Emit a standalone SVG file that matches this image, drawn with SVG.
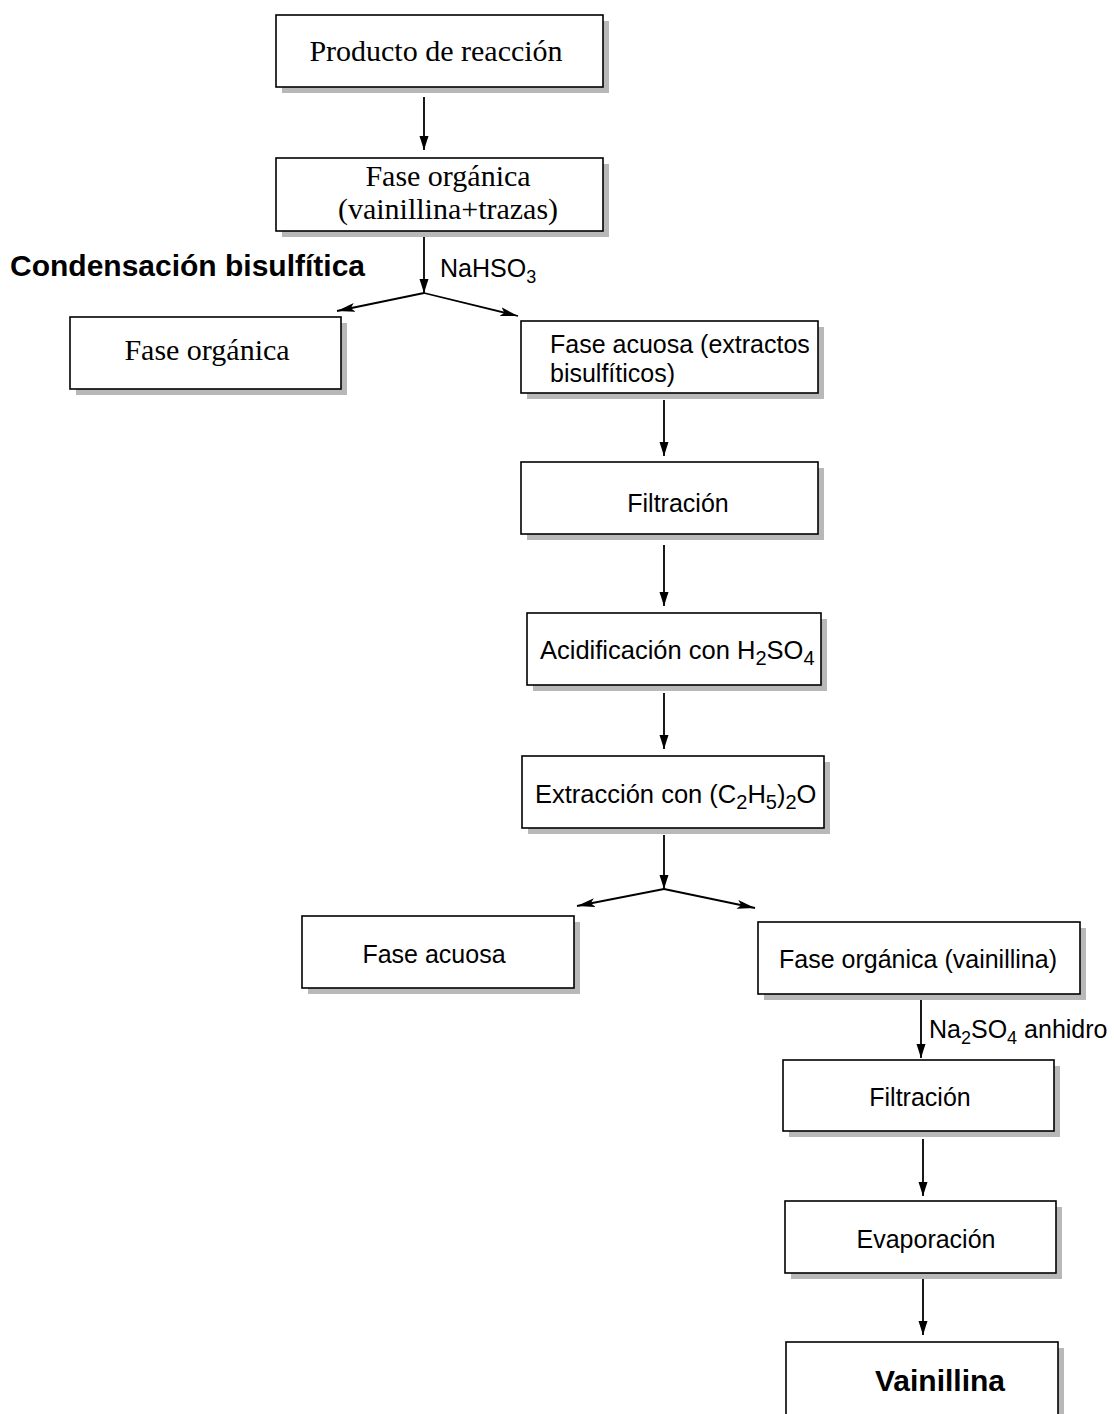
<svg xmlns="http://www.w3.org/2000/svg" width="1114" height="1414" viewBox="0 0 1114 1414">
  <defs>
    <marker id="arrow" viewBox="0 0 14 10" refX="14" refY="5" markerWidth="14" markerHeight="10" markerUnits="userSpaceOnUse" orient="auto">
      <path d="M0,0.5 L14,5 L0,9.5 Z" fill="#000"/>
    </marker>
    <marker id="arrowL" viewBox="0 0 18 10" refX="18" refY="5" markerWidth="18" markerHeight="10" markerUnits="userSpaceOnUse" orient="auto">
      <path d="M0,0.5 L18,5 L0,9.5 L4,5 Z" fill="#000"/>
    </marker>
  </defs>
  <style>
    .shadow { fill: #b8b8b8; }
    .box { fill: #fff; stroke: #000; stroke-width: 1.6; }
    .serif { font-family: "Liberation Serif", "Times New Roman", serif; font-size: 30px; fill: #000; }
    .sans { font-family: "Liberation Sans", Arial, sans-serif; font-size: 25px; fill: #000; }
    .title { font-family: "Liberation Sans", Arial, sans-serif; font-size: 30px; font-weight: bold; fill: #000; }
    .small { font-family: "Liberation Sans", Arial, sans-serif; font-size: 25px; fill: #000; }
    .sub { font-size: 18px; }
    .sub2 { font-size: 20px; }
    .edge { stroke: #000; stroke-width: 1.8; fill: none; }
  </style>
  <rect width="1114" height="1414" fill="#fff"/>

  <!-- connectors -->
  <g id="connectors">
    <line class="edge" x1="424" y1="97" x2="424" y2="150" marker-end="url(#arrow)"/>
    <line class="edge" x1="424" y1="237" x2="424" y2="293" marker-end="url(#arrow)"/>
    <line class="edge" x1="424" y1="293" x2="337" y2="311" marker-end="url(#arrowL)"/>
    <line class="edge" x1="424" y1="293" x2="518" y2="316" marker-end="url(#arrowL)"/>
    <line class="edge" x1="664" y1="400" x2="664" y2="456" marker-end="url(#arrow)"/>
    <line class="edge" x1="664" y1="545" x2="664" y2="606" marker-end="url(#arrow)"/>
    <line class="edge" x1="664" y1="693" x2="664" y2="749" marker-end="url(#arrow)"/>
    <line class="edge" x1="664" y1="835" x2="664" y2="889" marker-end="url(#arrow)"/>
    <line class="edge" x1="664" y1="889" x2="577" y2="906" marker-end="url(#arrowL)"/>
    <line class="edge" x1="664" y1="889" x2="755" y2="908" marker-end="url(#arrowL)"/>
    <line class="edge" x1="921" y1="999" x2="921" y2="1058" marker-end="url(#arrow)"/>
    <line class="edge" x1="923" y1="1139" x2="923" y2="1196" marker-end="url(#arrow)"/>
    <line class="edge" x1="923" y1="1279" x2="923" y2="1335" marker-end="url(#arrow)"/>
  </g>

  <!-- labels on connectors -->
  <text class="title" x="10" y="276">Condensación bisulfítica</text>
  <text class="small" x="440" y="277">NaHSO<tspan class="sub" dy="6">3</tspan></text>
  <text class="small" x="929" y="1038">Na<tspan class="sub" dy="6">2</tspan><tspan dy="-6">SO</tspan><tspan class="sub" dy="6">4</tspan><tspan dy="-6"> anhidro</tspan></text>

  <g id="n-producto">
    <rect class="shadow" x="282" y="21" width="327" height="72"/>
    <rect class="box" x="276" y="15" width="327" height="72"/>
    <text class="serif" x="436" y="61" text-anchor="middle">Producto de reacción</text>
  </g>

  <g id="n-fase-organica-1">
    <rect class="shadow" x="282" y="164" width="327" height="73"/>
    <rect class="box" x="276" y="158" width="327" height="73"/>
    <text class="serif" x="448" y="186" text-anchor="middle">Fase orgánica</text>
    <text class="serif" x="448" y="219" text-anchor="middle">(vainillina+trazas)</text>
  </g>

  <g id="n-fase-organica-2">
    <rect class="shadow" x="76" y="323" width="271" height="72"/>
    <rect class="box" x="70" y="317" width="271" height="72"/>
    <text class="serif" x="207" y="360" text-anchor="middle">Fase orgánica</text>
  </g>

  <g id="n-fase-acuosa-1">
    <rect class="shadow" x="527" y="327" width="297" height="72"/>
    <rect class="box" x="521" y="321" width="297" height="72"/>
    <text class="sans" x="550" y="353">Fase acuosa (extractos</text>
    <text class="sans" x="550" y="382">bisulfíticos)</text>
  </g>

  <g id="n-filtracion-1">
    <rect class="shadow" x="527" y="468" width="297" height="72"/>
    <rect class="box" x="521" y="462" width="297" height="72"/>
    <text class="sans" x="678" y="512" text-anchor="middle">Filtración</text>
  </g>

  <g id="n-acidificacion">
    <rect class="shadow" x="533" y="619" width="294" height="72"/>
    <rect class="box" x="527" y="613" width="294" height="72"/>
    <text class="sans" x="540" y="659" style="font-size:25.5px">Acidificación con H<tspan class="sub2" dy="6">2</tspan><tspan dy="-6">SO</tspan><tspan class="sub2" dy="6">4</tspan></text>
  </g>

  <g id="n-extraccion">
    <rect class="shadow" x="528" y="762" width="302" height="72"/>
    <rect class="box" x="522" y="756" width="302" height="72"/>
    <text class="sans" x="535" y="803" style="font-size:25.5px">Extracción con (C<tspan class="sub2" dy="6">2</tspan><tspan dy="-6">H</tspan><tspan class="sub2" dy="6">5</tspan><tspan dy="-6">)</tspan><tspan class="sub2" dy="6">2</tspan><tspan dy="-6">O</tspan></text>
  </g>

  <g id="n-fase-acuosa-2">
    <rect class="shadow" x="308" y="922" width="272" height="72"/>
    <rect class="box" x="302" y="916" width="272" height="72"/>
    <text class="sans" x="434" y="963" text-anchor="middle">Fase acuosa</text>
  </g>

  <g id="n-fase-organica-3">
    <rect class="shadow" x="764" y="928" width="322" height="72"/>
    <rect class="box" x="758" y="922" width="322" height="72"/>
    <text class="sans" x="918" y="968" text-anchor="middle">Fase orgánica (vainillina)</text>
  </g>

  <g id="n-filtracion-2">
    <rect class="shadow" x="789" y="1066" width="271" height="71"/>
    <rect class="box" x="783" y="1060" width="271" height="71"/>
    <text class="sans" x="920" y="1106" text-anchor="middle">Filtración</text>
  </g>

  <g id="n-evaporacion">
    <rect class="shadow" x="791" y="1207" width="271" height="72"/>
    <rect class="box" x="785" y="1201" width="271" height="72"/>
    <text class="sans" x="926" y="1248" text-anchor="middle">Evaporación</text>
  </g>

  <g id="n-vainillina">
    <rect class="shadow" x="792" y="1348" width="272" height="80"/>
    <rect class="box" x="786" y="1342" width="272" height="80"/>
    <text class="title" x="940" y="1391" text-anchor="middle">Vainillina</text>
  </g>
</svg>
